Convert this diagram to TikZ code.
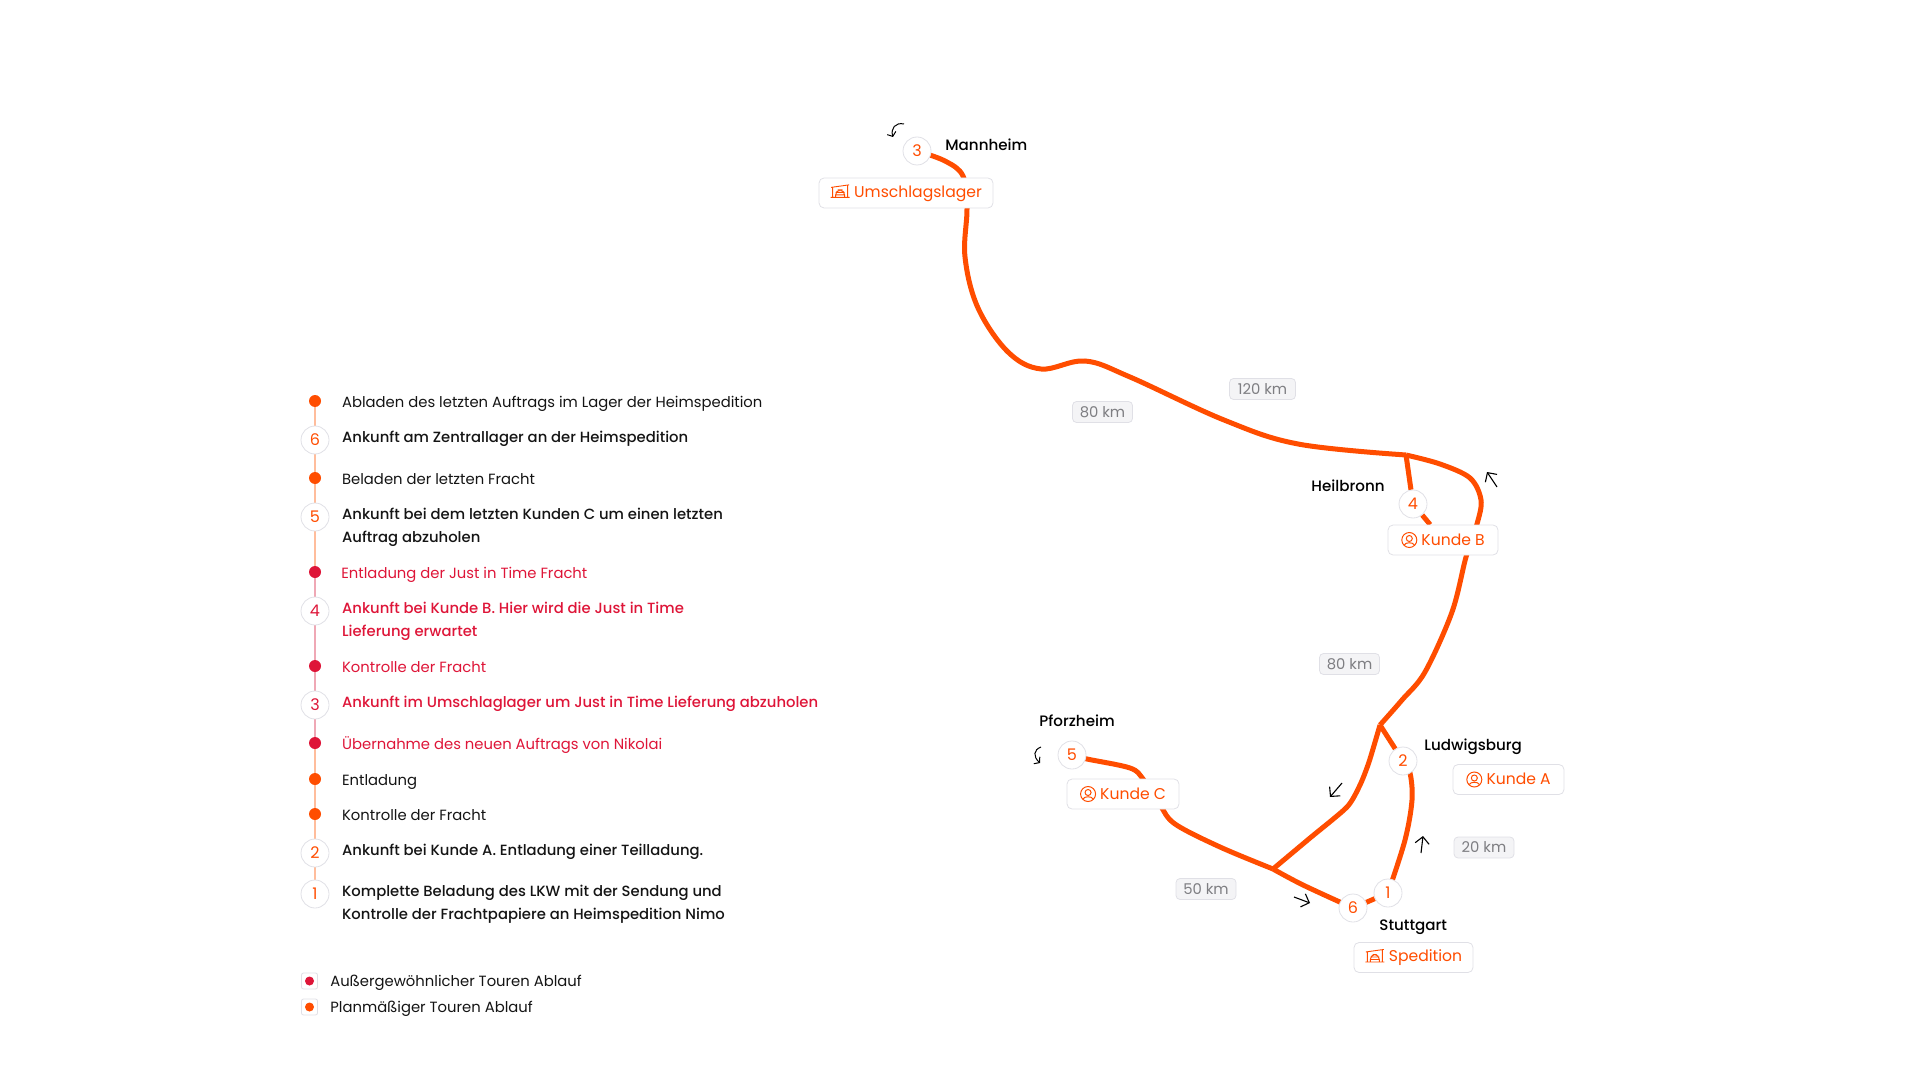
\documentclass[tikz,border=0pt]{standalone}
\usepackage{fontspec}
\usepackage{xcolor}
\setmainfont{Poppins}
\newfontfamily\medfont{Poppins Medium}
\usetikzlibrary{arrows.meta,backgrounds,bending}
\definecolor{roadorange}{HTML}{FF4D00}
\definecolor{tourred}{HTML}{DE1538}
\definecolor{linkorange}{HTML}{FFBD9C}
\definecolor{linkred}{HTML}{EFA8B5}
\definecolor{ringgrey}{HTML}{E0E0E6}
\definecolor{kmfill}{HTML}{F4F4F6}
\definecolor{kmtext}{HTML}{7E7E82}
\definecolor{inktext}{HTML}{141414}
\newcommand{\lagericon}{\tikz[x=0.5pt,y=0.5pt,baseline=0pt,line width=0.45pt]{
    \draw (-1,10) -- (17,12.5) (0.5,10) -- (0.5,0) (15.5,12.5) -- (15.5,0) (-1.5,0) -- (17.5,0);
    \draw (3.5,0) -- (3.5,7.5) -- (12.5,7.5) -- (12.5,0) (3.5,5) -- (12.5,5) (3.5,2.5) -- (12.5,2.5);
}}
\newcommand{\kundeicon}{\tikz[x=0.5pt,y=0.5pt,baseline=-2.6pt,line width=0.5pt]{
    \draw (0,0) circle (7.5);
    \draw (0,1.5) circle (3);
    \draw (-5,-5) .. controls (-4,-2) and (4,-2) .. (5,-5);
}}
\tikzset{
    every node/.style={font=\fontsize{7.4}{11.5}\selectfont},
    road/.style={roadorange, line width=2.5pt, line join=round},
    numring/.style={circle, draw=ringgrey, fill=white, line width=0.4pt, minimum size=14pt, inner sep=0pt, text=roadorange, font=\fontsize{8}{9}\selectfont},
    numred/.style={numring, text=tourred},
    orangedot/.style={circle, fill=roadorange, minimum size=6pt, inner sep=0pt},
    reddot/.style={circle, fill=tourred, minimum size=6pt, inner sep=0pt},
    entry/.style={anchor=base west, inner sep=0pt, align=left, text=inktext},
    strong/.style={entry, font=\fontsize{7.4}{11.5}\medfont},
    redentry/.style={entry, text=tourred},
    redstrong/.style={strong, text=tourred},
    linkor/.style={linkorange, line width=0.8pt},
    linkre/.style={linkred, line width=0.8pt},
    place/.style={anchor=base west, inner sep=0pt, text=black, font=\fontsize{7.55}{11.5}\medfont},
    sitebox/.style={draw=ringgrey, fill=white, rounded corners=2.5pt, line width=0.4pt, minimum height=15pt, inner sep=0pt, text=roadorange, font=\fontsize{7.8}{11.5}\selectfont},
    kmbox/.style={draw=ringgrey, fill=kmfill, rounded corners=2pt, line width=0.4pt, minimum height=10.5pt, inner sep=0pt, text=kmtext, font=\fontsize{7.4}{11.5}\selectfont},
    legendbox/.style={draw=ringgrey, fill=white, rounded corners=1pt, line width=0.4pt, minimum size=8pt, inner sep=0pt},
    hint/.style={black, line width=0.55pt, -{Straight Barb[length=3.4pt,width=7pt]}},
    smallhint/.style={black, line width=0.5pt, -{Straight Barb[length=1.8pt,width=4.6pt,flex=0]}}
}

\begin{document}
\begin{tikzpicture}[x=0.5pt,y=-0.5pt]
    \useasboundingbox (0,0) rectangle (1920,1080);

    % timeline
    \node[orangedot] (dotAbladen) at (315,401) {};
    \node[numring] (step6) at (315,440) {6};
    \node[orangedot] (dotBeladen) at (315,478) {};
    \node[numring] (step5) at (315,517) {5};
    \node[reddot] (dotEntladungJit) at (315,572) {};
    \node[numred] (step4) at (315,611) {4};
    \node[reddot] (dotKontrolleJit) at (315,666) {};
    \node[numred] (step3) at (315,705) {3};
    \node[reddot] (dotUebernahme) at (315,743) {};
    \node[orangedot] (dotEntladung) at (315,779) {};
    \node[orangedot] (dotKontrolle) at (315,814) {};
    \node[numring] (step2) at (315,853) {2};
    \node[numring] (step1) at (315,894) {1};

    \node[entry] (txtAbladen) at (341.7,407) {Abladen des letzten Auftrags im Lager der Heimspedition};
    \node[strong] (txtStep6) at (341.7,442) {Ankunft am Zentrallager an der Heimspedition};
    \node[entry] (txtBeladen) at (341.7,484) {Beladen der letzten Fracht};
    \node[strong] (txtStep5) at (341.7,542.5) {Ankunft bei dem letzten Kunden C um einen letzten\\Auftrag abzuholen};
    \node[redentry] (txtEntladungJit) at (341,578) {Entladung der Just in Time Fracht};
    \node[redstrong] (txtStep4) at (341.7,636.5) {Ankunft bei Kunde B. Hier wird die Just in Time\\Lieferung erwartet};
    \node[redentry] (txtKontrolleJit) at (341.7,672) {Kontrolle der Fracht};
    \node[redstrong] (txtStep3) at (341.7,707) {Ankunft im Umschlaglager um Just in Time Lieferung abzuholen};
    \node[redentry] (txtUebernahme) at (341.7,749) {Übernahme des neuen Auftrags von Nikolai};
    \node[entry] (txtEntladung) at (341.7,785) {Entladung};
    \node[entry] (txtKontrolle) at (341.7,820) {Kontrolle der Fracht};
    \node[strong] (txtStep2) at (341.7,855) {Ankunft bei Kunde A. Entladung einer Teilladung.};
    \node[strong] (txtStep1) at (341.7,919.5) {Komplette Beladung des LKW mit der Sendung und\\Kontrolle der Frachtpapiere an Heimspedition Nimo};

    % legend
    \node[legendbox] (boxAusser) at (309.5,981) {};
    \node[reddot, minimum size=4.5pt] (dotAusser) at (309.5,981) {};
    \node[legendbox] (boxPlan) at (309.5,1007) {};
    \node[orangedot, minimum size=4.5pt] (dotPlan) at (309.5,1007) {};
    \node[entry] (txtAusser) at (330,986) {Außergewöhnlicher Touren Ablauf};
    \node[entry] (txtPlan) at (330,1012) {Planmäßiger Touren Ablauf};

    % map stops
    \node[numring] (stop3) at (917,151) {3};
    \node[numring] (stop4) at (1413,504) {4};
    \node[numring] (stop5) at (1072,755) {5};
    \node[numring] (stop2) at (1403,761) {2};
    \node[numring] (stop1) at (1388,893) {1};
    \node[numring] (stop6) at (1353,908) {6};

    \node[place] (mannheim) at (945,151) {Mannheim};
    \node[place] (heilbronn) at (1311,491) {Heilbronn};
    \node[place] (pforzheim) at (1039,726) {Pforzheim};
    \node[place] (ludwigsburg) at (1424,750) {Ludwigsburg};
    \node[place] (stuttgart) at (1379,930) {Stuttgart};

    \node[sitebox, minimum width=87pt] (umschlag) at (906,193) {\lagericon\ Umschlagslager};
    \node[sitebox, minimum width=55pt] (kundeB) at (1443,540) {\kundeicon\ Kunde B};
    \node[sitebox, minimum width=56pt] (kundeC) at (1123,794) {\kundeicon\ Kunde C};
    \node[sitebox, minimum width=55.5pt] (kundeA) at (1508.5,779.5) {\kundeicon\ Kunde A};
    \node[sitebox, minimum width=59.5pt] (spedition) at (1413.5,957.5) {\lagericon\ Spedition};

    \node[kmbox, minimum width=33pt] (km120) at (1262.5,389) {120 km};
    \node[kmbox, minimum width=30pt] (km80a) at (1102.5,412) {80 km};
    \node[kmbox, minimum width=30pt] (km80b) at (1349.5,664) {80 km};
    \node[kmbox, minimum width=30pt] (km50) at (1206,889) {50 km};
    \node[kmbox, minimum width=30pt] (km20) at (1484,847.5) {20 km};

    % junctions of the route
    \coordinate (forkHeilbronn) at (1406,455);
    \coordinate (forkLudwigsburg) at (1380,725);
    \coordinate (forkStuttgart) at (1273,869);

    \begin{scope}[on background layer]
        \draw[linkor] (dotAbladen) -- (step6);
        \draw[linkor] (step6) -- (dotBeladen);
        \draw[linkor] (dotBeladen) -- (step5);
        \draw[linkor] (step5) -- (dotEntladungJit);
        \draw[linkre] (dotEntladungJit) -- (step4);
        \draw[linkre] (step4) -- (dotKontrolleJit);
        \draw[linkre] (dotKontrolleJit) -- (step3);
        \draw[linkre] (step3) -- (dotUebernahme);
        \draw[linkor] (dotUebernahme) -- (dotEntladung);
        \draw[linkor] (dotEntladung) -- (dotKontrolle);
        \draw[linkor] (dotKontrolle) -- (step2);
        \draw[linkor] (step2) -- (step1);

        \draw[road] plot[smooth, tension=0.6] coordinates {(stop3) (945,161) (963,176) (967,208) (965,257) (978,308) (1008,352) (1041,369) (1085,361) (1130,377) (1224,420) (1298,444) (forkHeilbronn)};
        \draw[road] plot[smooth, tension=0.55] coordinates {(forkHeilbronn) (1440,464) (1470,478) (1481,500) (1477,524) (1466,557) (1452,612) (1425,672) (1402,700) (forkLudwigsburg)};
        \draw[road] (forkHeilbronn) -- (stop4);
        \draw[road] (stop4) -- (kundeB);
        \draw[road] (forkLudwigsburg) -- (stop2);
        \draw[road] plot[smooth, tension=0.55] coordinates {(stop2) (1410,773) (1412,800) (1405,840) (stop1)};
        \draw[road] (stop1) -- (stop6);
        \draw[road] plot[smooth, tension=0.4] coordinates {(forkLudwigsburg) (1369,762) (1360,785) (1347,807) (1310,838) (forkStuttgart)};
        \draw[road] plot[smooth, tension=0.55] coordinates {(forkStuttgart) (1303,885) (stop6)};
        \draw[road] plot[smooth, tension=0.55] coordinates {(forkStuttgart) (1220,847) (1175,824) (1160,805) (1143,779) (1130,768) (1087,759) (stop5)};
    \end{scope}

    % direction hints
    \coordinate (hintTailA) at (1421,853);
    \coordinate (hintTipA) at (1423,836);
    \coordinate (hintTailB) at (1342,783);
    \coordinate (hintTipB) at (1330,797);
    \coordinate (hintTailC) at (1294,897);
    \coordinate (hintTipC) at (1310,903);
    \coordinate (hintTailD) at (1497,487);
    \coordinate (hintTipD) at (1487,472);
    \coordinate (hintTailE) at (904,124);
    \coordinate (hintTipE) at (893,137);
    \coordinate (hintTailF) at (1041,747);
    \coordinate (hintTipF) at (1040,763);
    \draw[hint] (hintTailA) -- (hintTipA);
    \draw[hint] (hintTailB) -- (hintTipB);
    \draw[hint] (hintTailC) -- (hintTipC);
    \draw[hint] (hintTailD) -- (hintTipD);
    \draw[smallhint] (hintTailE) .. controls (895,122) and (890,129) .. (hintTipE);
    \draw[smallhint] (hintTailF) .. controls (1033,750) and (1033,757) .. (hintTipF);
\end{tikzpicture}
\end{document}
